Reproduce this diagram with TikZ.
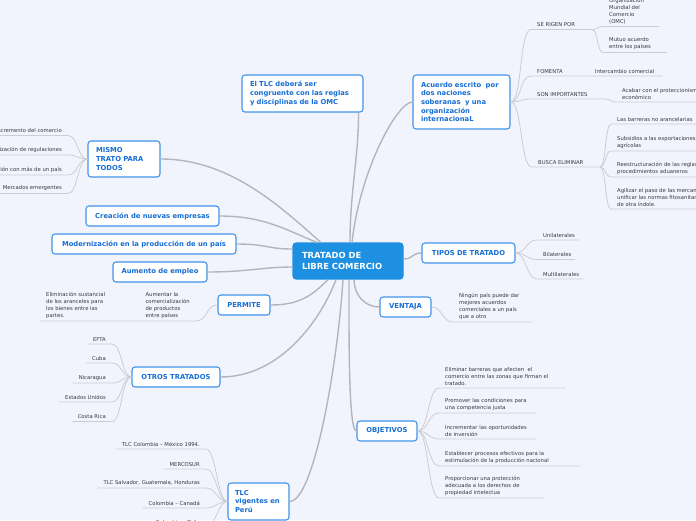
\documentclass[tikz,border=0pt]{standalone}
\usepackage{fontspec}
\setmainfont{DejaVu Sans}
\usetikzlibrary{positioning}
\definecolor{pagebg}{RGB}{242,244,253}
\definecolor{mapblue}{RGB}{30,144,226}
\definecolor{edgeblue}{RGB}{66,148,234}
\definecolor{inkblue}{RGB}{22,110,212}
\definecolor{trunkgray}{RGB}{180,180,188}
\definecolor{twiggray}{RGB}{204,204,212}
\definecolor{leafink}{RGB}{55,55,60}

\begin{document}
\begin{tikzpicture}[x=1pt, y=-1pt,
  topic/.style={draw=edgeblue, line width=1.1pt, fill=white, rounded corners=3pt, text=inkblue,
    font=\bfseries\fontsize{6.8}{8.7}\selectfont, minimum height=20pt, inner sep=0pt},
  topicml/.style={topic, align=left, inner xsep=8pt},
  leaf/.style={font=\fontsize{5.3}{6.9}\selectfont, text=leafink, inner xsep=6pt, inner ysep=2.5pt,
    anchor=south west, align=left},
  leafl/.style={leaf, anchor=south east, align=right},
  trunk/.style={draw=trunkgray, line width=1.4pt},
  twig/.style={draw=twiggray, line width=0.8pt}]

  % Page
  \useasboundingbox (0,0) rectangle (696,520);
  \fill[pagebg] (0,0) rectangle (696,520);
  \clip (0,0) rectangle (696,520);

  % Central topic
  \node[topic, fill=mapblue, draw=mapblue, text=white, font=\bfseries\fontsize{8.4}{11}\selectfont,
    text width=92pt, inner xsep=9pt, minimum height=36pt, align=left] (tratado) at (348,261) {TRATADO DE\\LIBRE COMERCIO};

  % Main topics
  \node[topicml, text width=105pt, minimum height=37pt] (omc) at (302.5,93.5) {El TLC deberá ser\\congruente con las reglas\\y disciplinas de la OMC};
  \node[topicml, text width=81pt, minimum height=54pt] (acuerdo) at (461.5,102) {Acuerdo escrito~~por\\dos naciones\\soberanas~~y una\\organización\\internacionaL};
  \node[topicml, text width=56pt, minimum height=36pt] (mismo) at (124,159) {MISMO\\TRATO PARA\\TODOS};
  \node[topic, minimum width=133pt] (empresas) at (152.5,216) {Creación de nuevas empresas};
  \node[topic, minimum width=184pt] (moderna) at (144,244) {Modernización en la producción de un país};
  \node[topic, minimum width=94pt] (empleo) at (160,272) {Aumento de empleo};
  \node[topic, minimum width=52pt] (permite) at (244,305) {PERMITE};
  \node[topic, minimum width=88pt] (otros) at (176,377) {OTROS TRATADOS};
  \node[topicml, text width=47pt, inner xsep=7pt, minimum height=37pt] (vigentes) at (258.5,501.5) {TLC\\vigentes en\\Perú};
  \node[topic, minimum width=93pt] (tipos) at (468.5,253) {TIPOS DE TRATADO};
  \node[topic, minimum width=51pt] (ventaja) at (405.5,307) {VENTAJA};
  \node[topic, minimum width=60pt] (objetivos) at (387,431) {OBJETIVOS};

  % Acuerdo leaves
  \node[leaf] (rigen) at (531,29.5) {SE RIGEN POR};
  \node[leaf] (omcn) at (603,26.5) {Organización\\Mundial del\\Comercio\\(OMC)};
  \node[leaf] (mutuo) at (603,52.5) {Mutuo acuerdo\\entre los países};
  \node[leaf] (fomenta) at (531,76) {FOMENTA};
  \node[leaf] (inter) at (589,76) {Intercambio comercial};
  \node[leaf] (importa) at (531,99) {SON IMPORTANTES};
  \node[leaf] (acabar) at (616,102) {Acabar con el proteccionismo\\económico};
  \node[leaf] (busca) at (532,167) {BUSCA ELIMINAR};
  \node[leaf] (barreras) at (611,124) {Las barreras no arancelarias};
  \node[leaf] (subsid) at (611,151) {Subsidios a las exportaciones\\agrícolas};
  \node[leaf] (reestr) at (611,177) {Reestructuración de las reglas y\\procedimientos aduaneros};
  \node[leaf] (agiliz) at (611,209) {Agilizar el paso de las mercancías y\\unificar las normas fitosanitarias y\\de otra índole.};

  % Mismo trato leaves
  \node[leafl] (incre) at (68,135.5) {Incremento del comercio};
  \node[leafl] (armon) at (68,155) {Armonización de regulaciones};
  \node[leafl] (integ) at (68,175) {Integración con más de un país};
  \node[leafl] (merca) at (68,193.5) {Mercados emergentes};

  % Permite leaves
  \node[leaf, anchor=south east] (aumen) at (196,321) {Aumentar la\\comercialización\\de productos\\entre países};
  \node[leaf] (elim) at (40,321) {Eliminación sustancial\\de los aranceles para\\los bienes entre las\\partes.};

  % Otros tratados leaves
  \node[leafl] (efta) at (112,344) {EFTA};
  \node[leafl] (cuba) at (112,363) {Cuba};
  \node[leafl] (nica) at (112,383) {Nicaragua};
  \node[leafl] (eeuu) at (112,402) {Estados Unidos};
  \node[leafl] (costa) at (112,421.5) {Costa Rica};

  % TLC vigentes leaves
  \node[leafl] (mex) at (206,449) {TLC Colombia – México 1994.};
  \node[leafl] (merco) at (206,469) {MERCOSUR};
  \node[leafl] (salv) at (206,488) {TLC Salvador, Guatemala, Honduras};
  \node[leafl] (cana) at (206,508) {Colombia – Canadá};
  \node[leafl] (chile) at (206,527.5) {Colombia – Chile};

  % Tipos, ventaja, objetivos leaves
  \node[leaf] (uni) at (537,240) {Unilaterales};
  \node[leaf] (bil) at (537,259.5) {Bilaterales};
  \node[leaf] (mul) at (537,279) {Multilaterales};
  \node[leaf] (ning) at (453,322) {Ningún país puede dar\\mejores acuerdos\\comerciales a un país\\que a otro};
  \node[leaf] (elibar) at (439,388) {Eliminar barreras que afecten~~el\\comercio entre las zonas que firman el\\tratado.};
  \node[leaf] (prom) at (439,413) {Promover las condiciones para\\una competencia justa};
  \node[leaf] (inver) at (439,439) {Incrementar las oportunidades\\de inversión};
  \node[leaf] (estab) at (439,466) {Establecer procesos efectivos para la\\estimulación de la producción nacional};
  \node[leaf] (prote) at (439,498) {Proporcionar una protección\\adecuada a los derechos de\\propiedad intelectua};

  % Trunk connectors
  \draw[trunk] ([xshift=-5pt]omc.south east) .. controls +(0,45) and +(0,-50) .. ([xshift=2pt]tratado.north);
  \draw[trunk] (acuerdo.west) .. controls +(-15,0) and +(8,-73) .. ([xshift=4pt]tratado.north);
  \draw[trunk] (mismo.east) .. controls +(70,0) and +(-40,-35) .. ([xshift=-27pt]tratado.north);
  \draw[trunk] (empresas.east) .. controls +(45,0) and +(-30,-12) .. ([xshift=-31pt]tratado.north);
  \draw[trunk] (moderna.east) .. controls +(30,0) and +(-25,0) .. ([yshift=12pt]tratado.west);
  \draw[trunk] (empleo.east) .. controls +(40,0) and +(-30,0) .. ([yshift=-6pt]tratado.west);
  \draw[trunk] (permite.east) .. controls +(30,0) and +(-15,15) .. ([xshift=-20pt]tratado.south);
  \draw[trunk] (otros.east) .. controls +(60,0) and +(-15,40) .. ([xshift=-12pt]tratado.south);
  \draw[trunk] (vigentes.east) .. controls +(25,0) and +(-5,80) .. ([xshift=-5pt]tratado.south);
  \draw[trunk] (objetivos.west) .. controls +(-8,0) and +(0,60) .. ([xshift=1pt]tratado.south);
  \draw[trunk] (ventaja.west) .. controls +(-15,0) and +(0,15) .. ([xshift=6pt]tratado.south);
  \draw[trunk] (tipos.west) .. controls +(-10,0) and +(10,0) .. ([yshift=2pt]tratado.east);

  % Acuerdo branch
  \draw[twig] (acuerdo.east) .. controls +(12,0) and +(-12,0) .. (rigen.south west) -- ++(61,0) coordinate (rigenx);
  \draw[twig] (rigenx) .. controls +(6,0) and +(-6,0) .. (omcn.south west) -- ++(56,0);
  \draw[twig] (rigenx) .. controls +(6,0) and +(-6,0) .. (mutuo.south west) -- ++(64,0);
  \draw[twig] (acuerdo.east) .. controls +(12,0) and +(-12,0) .. (fomenta.south west) -- (inter.south west) -- ++(73,0);
  \draw[twig] (acuerdo.east) .. controls +(12,0) and +(-12,0) .. (importa.south west) -- ++(74,0)
    .. controls +(6,0) and +(-6,0) .. (acabar.south west) -- ++(90,0);
  \draw[twig] (acuerdo.east) .. controls +(12,0) and +(-12,0) .. (busca.south west) -- ++(68,0) coordinate (buscax);
  \foreach \n in {barreras, subsid, reestr, agiliz}
    \draw[twig] (buscax) .. controls +(6,0) and +(-6,0) .. (\n.south west) -- ++(90,0);

  % Left branches
  \foreach \n in {incre, armon, integ, merca}
    \draw[twig] (mismo.west) .. controls +(-10,0) and +(10,0) .. (\n.south east) -- (\n.south west);
  \draw[twig] (permite.west) .. controls +(-12,0) and +(12,0) .. (aumen.south east) -- (elim.south west);
  \foreach \n in {efta, cuba, nica, eeuu, costa}
    \draw[twig] (otros.west) .. controls +(-10,0) and +(10,0) .. (\n.south east) -- (\n.south west);
  \foreach \n in {mex, merco, salv, cana, chile}
    \draw[twig] (vigentes.west) .. controls +(-10,0) and +(10,0) .. (\n.south east) -- (\n.south west);

  % Right branches
  \foreach \n/\len in {uni/42, bil/38, mul/46}
    \draw[twig] (tipos.east) .. controls +(11,0) and +(-11,0) .. (\n.south west) -- ++(\len,0);
  \draw[twig] (ventaja.east) .. controls +(11,0) and +(-11,0) .. (ning.south west) -- ++(79,0);
  \foreach \n/\len in {elibar/126, prom/97, inver/97, estab/141, prote/105}
    \draw[twig] (objetivos.east) .. controls +(11,0) and +(-11,0) .. (\n.south west) -- ++(\len,0);
\end{tikzpicture}
\end{document}
